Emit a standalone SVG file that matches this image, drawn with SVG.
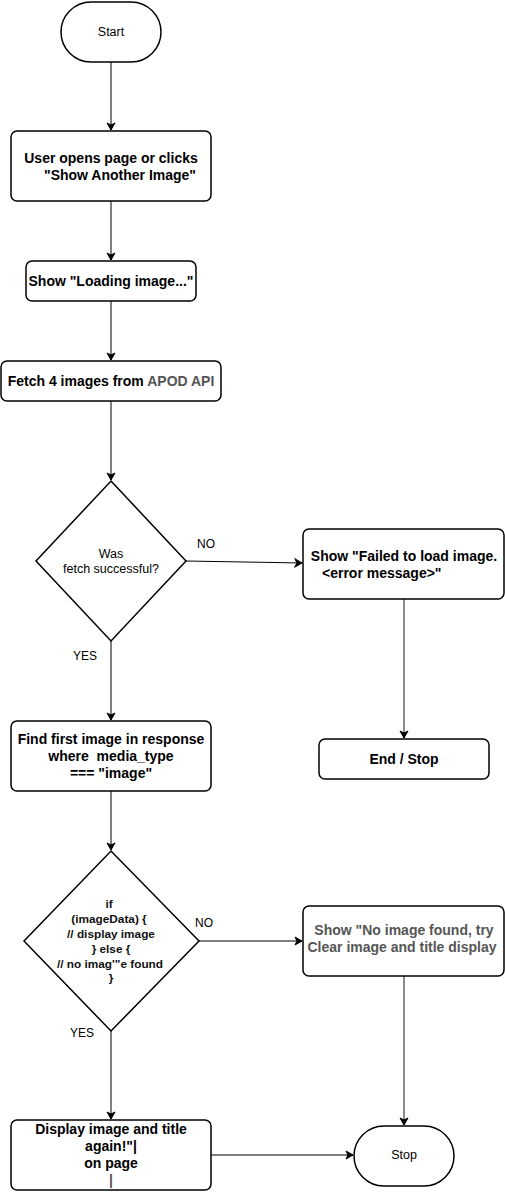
<svg xmlns="http://www.w3.org/2000/svg" width="505" height="1192" viewBox="0 0 505 1192">
<style>
.n{fill:#fff;stroke:#000;stroke-width:1.5}
.t{font-family:"Liberation Sans",Arial,sans-serif;font-size:14px;font-weight:bold;fill:#000;text-anchor:middle;white-space:pre}
.s{font-family:"Liberation Sans",Arial,sans-serif;font-size:12.5px;fill:#000;text-anchor:middle}
.d{font-family:"Liberation Sans",Arial,sans-serif;font-size:11.8px;font-weight:bold;fill:#111;text-anchor:middle}
.g{fill:#555}
.c{fill:none;stroke:#000;stroke-width:1}
.cg{fill:none;stroke:#666;stroke-width:1.5}
.l{font-family:"Liberation Sans",Arial,sans-serif;font-size:12px;fill:#000}
</style>
<defs>
<marker id="a" markerWidth="10" markerHeight="10" refX="8" refY="5" orient="auto" markerUnits="userSpaceOnUse">
<path d="M1,1 L8,5 L1,9 L3,5 Z" fill="#000" stroke="#000" stroke-width="1"/>
</marker>
</defs>
<g id="connectors">
<path class="c" d="M111,62 V130" marker-end="url(#a)"/>
<path class="c" d="M111,201 V260" marker-end="url(#a)"/>
<path class="c" d="M111,301 V360" marker-end="url(#a)"/>
<path class="c" d="M111,401 V480" marker-end="url(#a)"/>
<path class="c" d="M186,561 L302,563" marker-end="url(#a)"/>
<path class="cg" d="M404,599 V738" marker-end="url(#a)"/>
<path class="c" d="M111,641 V720" marker-end="url(#a)"/>
<path class="c" d="M111,791 V850" marker-end="url(#a)"/>
<path class="c" d="M199,941 H302" marker-end="url(#a)"/>
<path class="cg" d="M404,976 V1125" marker-end="url(#a)"/>
<path class="c" d="M111,1031 V1119" marker-end="url(#a)"/>
<path class="c" d="M211,1155 H353" marker-end="url(#a)"/>
<text class="l" x="197" y="548">NO</text>
<text class="l" x="73" y="660">YES</text>
<text class="l" x="195" y="927">NO</text>
<text class="l" x="70" y="1037">YES</text>
</g>
<g id="start">
<rect class="n" x="61" y="2" width="100" height="60" rx="30"/>
<text class="s" x="111" y="36">Start</text>
</g>
<g id="user-opens">
<rect class="n" x="11" y="131" width="200" height="70" rx="6"/>
<text class="t" x="111" y="163">User opens page or clicks</text>
<text class="t" x="120" y="180">"Show Another Image"</text>
</g>
<g id="loading">
<rect class="n" x="26" y="261" width="170" height="40" rx="6"/>
<text class="t" x="111" y="286">Show "Loading image..."</text>
</g>
<g id="fetch">
<rect class="n" x="1" y="361" width="220" height="40" rx="6"/>
<text class="t" x="111" y="386">Fetch 4 images from <tspan class="g">APOD API</tspan></text>
</g>
<g id="decision-fetch">
<polygon class="n" points="111,481 186,561 111,641 36,561"/>
<text class="s" x="111" y="558" fill="#333">Was</text>
<text class="s" x="111" y="573">fetch successful?</text>
</g>
<g id="failed">
<rect class="n" x="303" y="529" width="201" height="70" rx="6"/>
<text class="t" x="404" y="561">Show "Failed to load image.</text>
<text class="t" x="322" y="578" style="text-anchor:start">&lt;error message&gt;"</text>
</g>
<g id="end-stop">
<rect class="n" x="319" y="739" width="170" height="40" rx="6"/>
<text class="t" x="404" y="764">End / Stop</text>
</g>
<g id="find-first">
<rect class="n" x="11" y="721" width="200" height="70" rx="6"/>
<text class="t" x="111" y="744">Find first image in response</text>
<text class="t" x="111" y="761">where  media_type</text>
<text class="t" x="111" y="778">=== "image"</text>
</g>
<g id="decision-image">
<polygon class="n" points="111,851 199,941 111,1031 24,941"/>
<text class="d" x="109" y="908">if</text>
<text class="d" x="109" y="923">(imageData) {</text>
<text class="d" x="111" y="938">// display image</text>
<text class="d" x="111" y="953">} else {</text>
<text class="d" x="110" y="968">// no imag'"e found</text>
<text class="d" x="111" y="982">}</text>
</g>
<g id="no-image">
<rect class="n" x="303" y="906" width="201" height="70" rx="6"/>
<text class="t g" x="404" y="935">Show "No image found, try</text>
<text class="t g" x="402" y="952">Clear image and title display</text>
</g>
<g id="display">
<rect class="n" x="11" y="1120" width="200" height="70" rx="6"/>
<text class="t" x="111" y="1134">Display image and title</text>
<text class="t" x="111" y="1151">again!"|</text>
<text class="t" x="111" y="1168">on page</text>
<text class="t g" x="111" y="1185">|</text>
</g>
<g id="stop">
<rect class="n" x="354" y="1126" width="100" height="60" rx="30"/>
<text class="s" x="404" y="1159">Stop</text>
</g>
</svg>
